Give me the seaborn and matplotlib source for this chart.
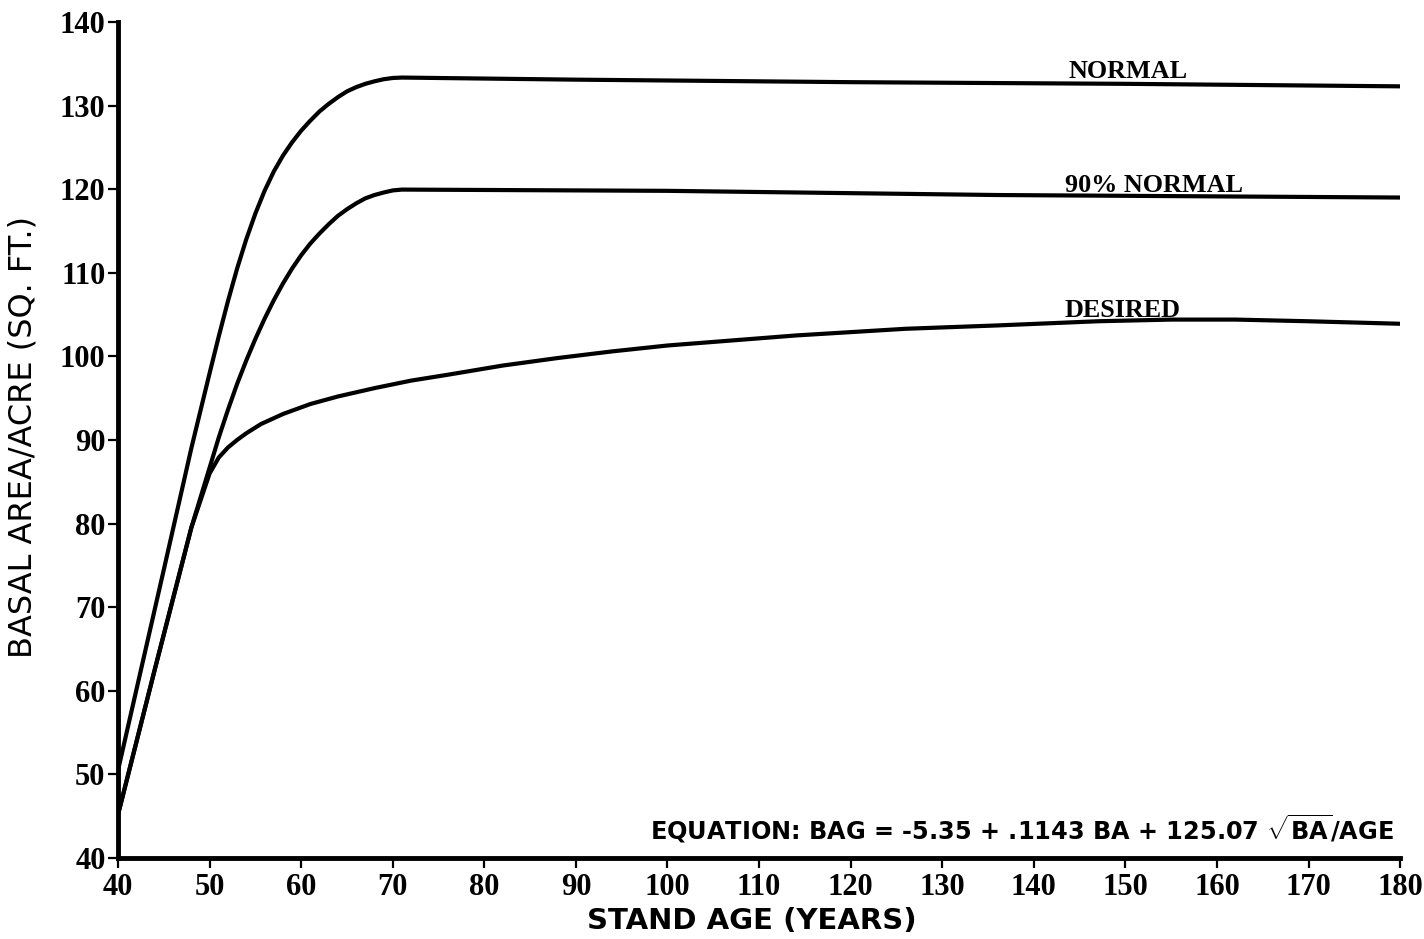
import matplotlib
matplotlib.use("Agg")
import matplotlib.pyplot as plt
import seaborn as sns

# Curves (stand age in years, basal area per acre in sq. ft.)
normal_age = [40, 45, 48, 50, 51, 52, 53, 54, 55, 56, 57, 58, 59, 60, 61, 62, 63, 64, 65,
              66, 67, 68, 69, 70, 71, 90, 120, 150, 180]
normal_ba = [50.5, 74.5, 89.0, 98.0, 102.4, 106.6, 110.5, 114.0, 117.1, 119.8, 122.1, 124.0,
             125.6, 127.0, 128.2, 129.3, 130.2, 131.0, 131.7, 132.2, 132.6, 132.9, 133.15,
             133.3, 133.35, 133.1, 132.8, 132.6, 132.3]

ninety_age = [40, 44, 48, 50, 51, 52, 53, 54, 55, 56, 57, 58, 59, 60, 61, 62, 63, 64, 65,
              66, 67, 68, 69, 70, 71, 100, 136, 180]
ninety_ba = [45.2, 62.5, 79.5, 86.7, 90.3, 93.6, 96.7, 99.5, 102.1, 104.5, 106.7, 108.7,
             110.5, 112.1, 113.5, 114.7, 115.8, 116.8, 117.6, 118.3, 118.9, 119.3, 119.6,
             119.85, 119.95, 119.8, 119.3, 119.0]

desired_age = [40, 44, 48, 50, 51, 52, 53, 54, 55.6, 58, 61, 64, 68, 72, 76, 82, 88, 94,
               100, 107, 114, 120, 126, 136, 147, 155, 162, 170, 180]
desired_ba = [45.2, 62.5, 79.5, 86.0, 87.9, 89.1, 90.0, 90.8, 91.9, 93.1, 94.3, 95.2, 96.2,
              97.1, 97.8, 98.9, 99.8, 100.6, 101.3, 101.9, 102.5, 102.9, 103.3, 103.7,
              104.2, 104.4, 104.4, 104.2, 103.9]

curve_labels = ["NORMAL", "90% NORMAL", "DESIRED"]
label_age = [143.8, 143.4, 143.4]
label_ba = [133.3, 119.7, 104.7]

x_ticks = list(range(40, 181, 10))
y_ticks = list(range(40, 141, 10))

sns.set_style("ticks")
plt.rcParams['font.family'] = ['DejaVu Sans']
plt.rcParams['text.color'] = 'black'
plt.rcParams['axes.labelcolor'] = 'black'
plt.rcParams['mathtext.fontset'] = 'custom'
plt.rcParams['mathtext.rm'] = 'DejaVu Sans:bold'
plt.rcParams['mathtext.bf'] = 'DejaVu Sans:bold'

fig = plt.figure(figsize=(14.24, 9.39), dpi=100)
ax = fig.add_axes([0.0829, 0.0863, 0.9003, 0.8903])

for xs, ys in [(normal_age, normal_ba), (ninety_age, ninety_ba), (desired_age, desired_ba)]:
    sns.lineplot(x=xs, y=ys, ax=ax, color='black', linewidth=3, sort=False,
                 solid_capstyle='round', solid_joinstyle='round')

ax.set_xlim(40, 180)
ax.set_ylim(40, 140)
ax.set_xticks(x_ticks)
ax.set_yticks(y_ticks)

sns.despine(ax=ax)
for side in ['left', 'bottom']:
    ax.spines[side].set_linewidth(3.5)
    ax.spines[side].set_color('black')
ax.tick_params(axis='y', direction='out', length=7, width=1.6, pad=2, colors='black')
ax.tick_params(axis='x', direction='out', length=7, width=1.6, pad=4, colors='black')
for lbl in ax.get_xticklabels() + ax.get_yticklabels():
    lbl.set_fontfamily('Liberation Serif')
    lbl.set_fontweight('bold')
    lbl.set_fontsize(22)

ax.set_ylabel("BASAL AREA/ACRE (SQ. FT.)", fontsize=23, fontfamily='DejaVu Sans')
ax.yaxis.set_label_coords(-0.062, 0.504)
ax.set_xlabel("STAND AGE (YEARS)", fontsize=21, fontweight='bold', fontfamily='DejaVu Sans')
ax.xaxis.set_label_coords(0.494, -0.059)

for name, xa, ya in zip(curve_labels, label_age, label_ba):
    ax.text(xa, ya, name, fontsize=18.8, fontweight='bold', fontfamily='Liberation Serif',
            ha='left', va='baseline', color='black')

ax.text(179.3, 43.5, r"EQUATION: BAG = -5.35 + .1143 BA + 125.07 $\sqrt{\mathrm{BA}}$/AGE",
        fontsize=17.3, fontweight='bold', ha='right', va='center', color='black')

fig.savefig("out.png", dpi=100)
